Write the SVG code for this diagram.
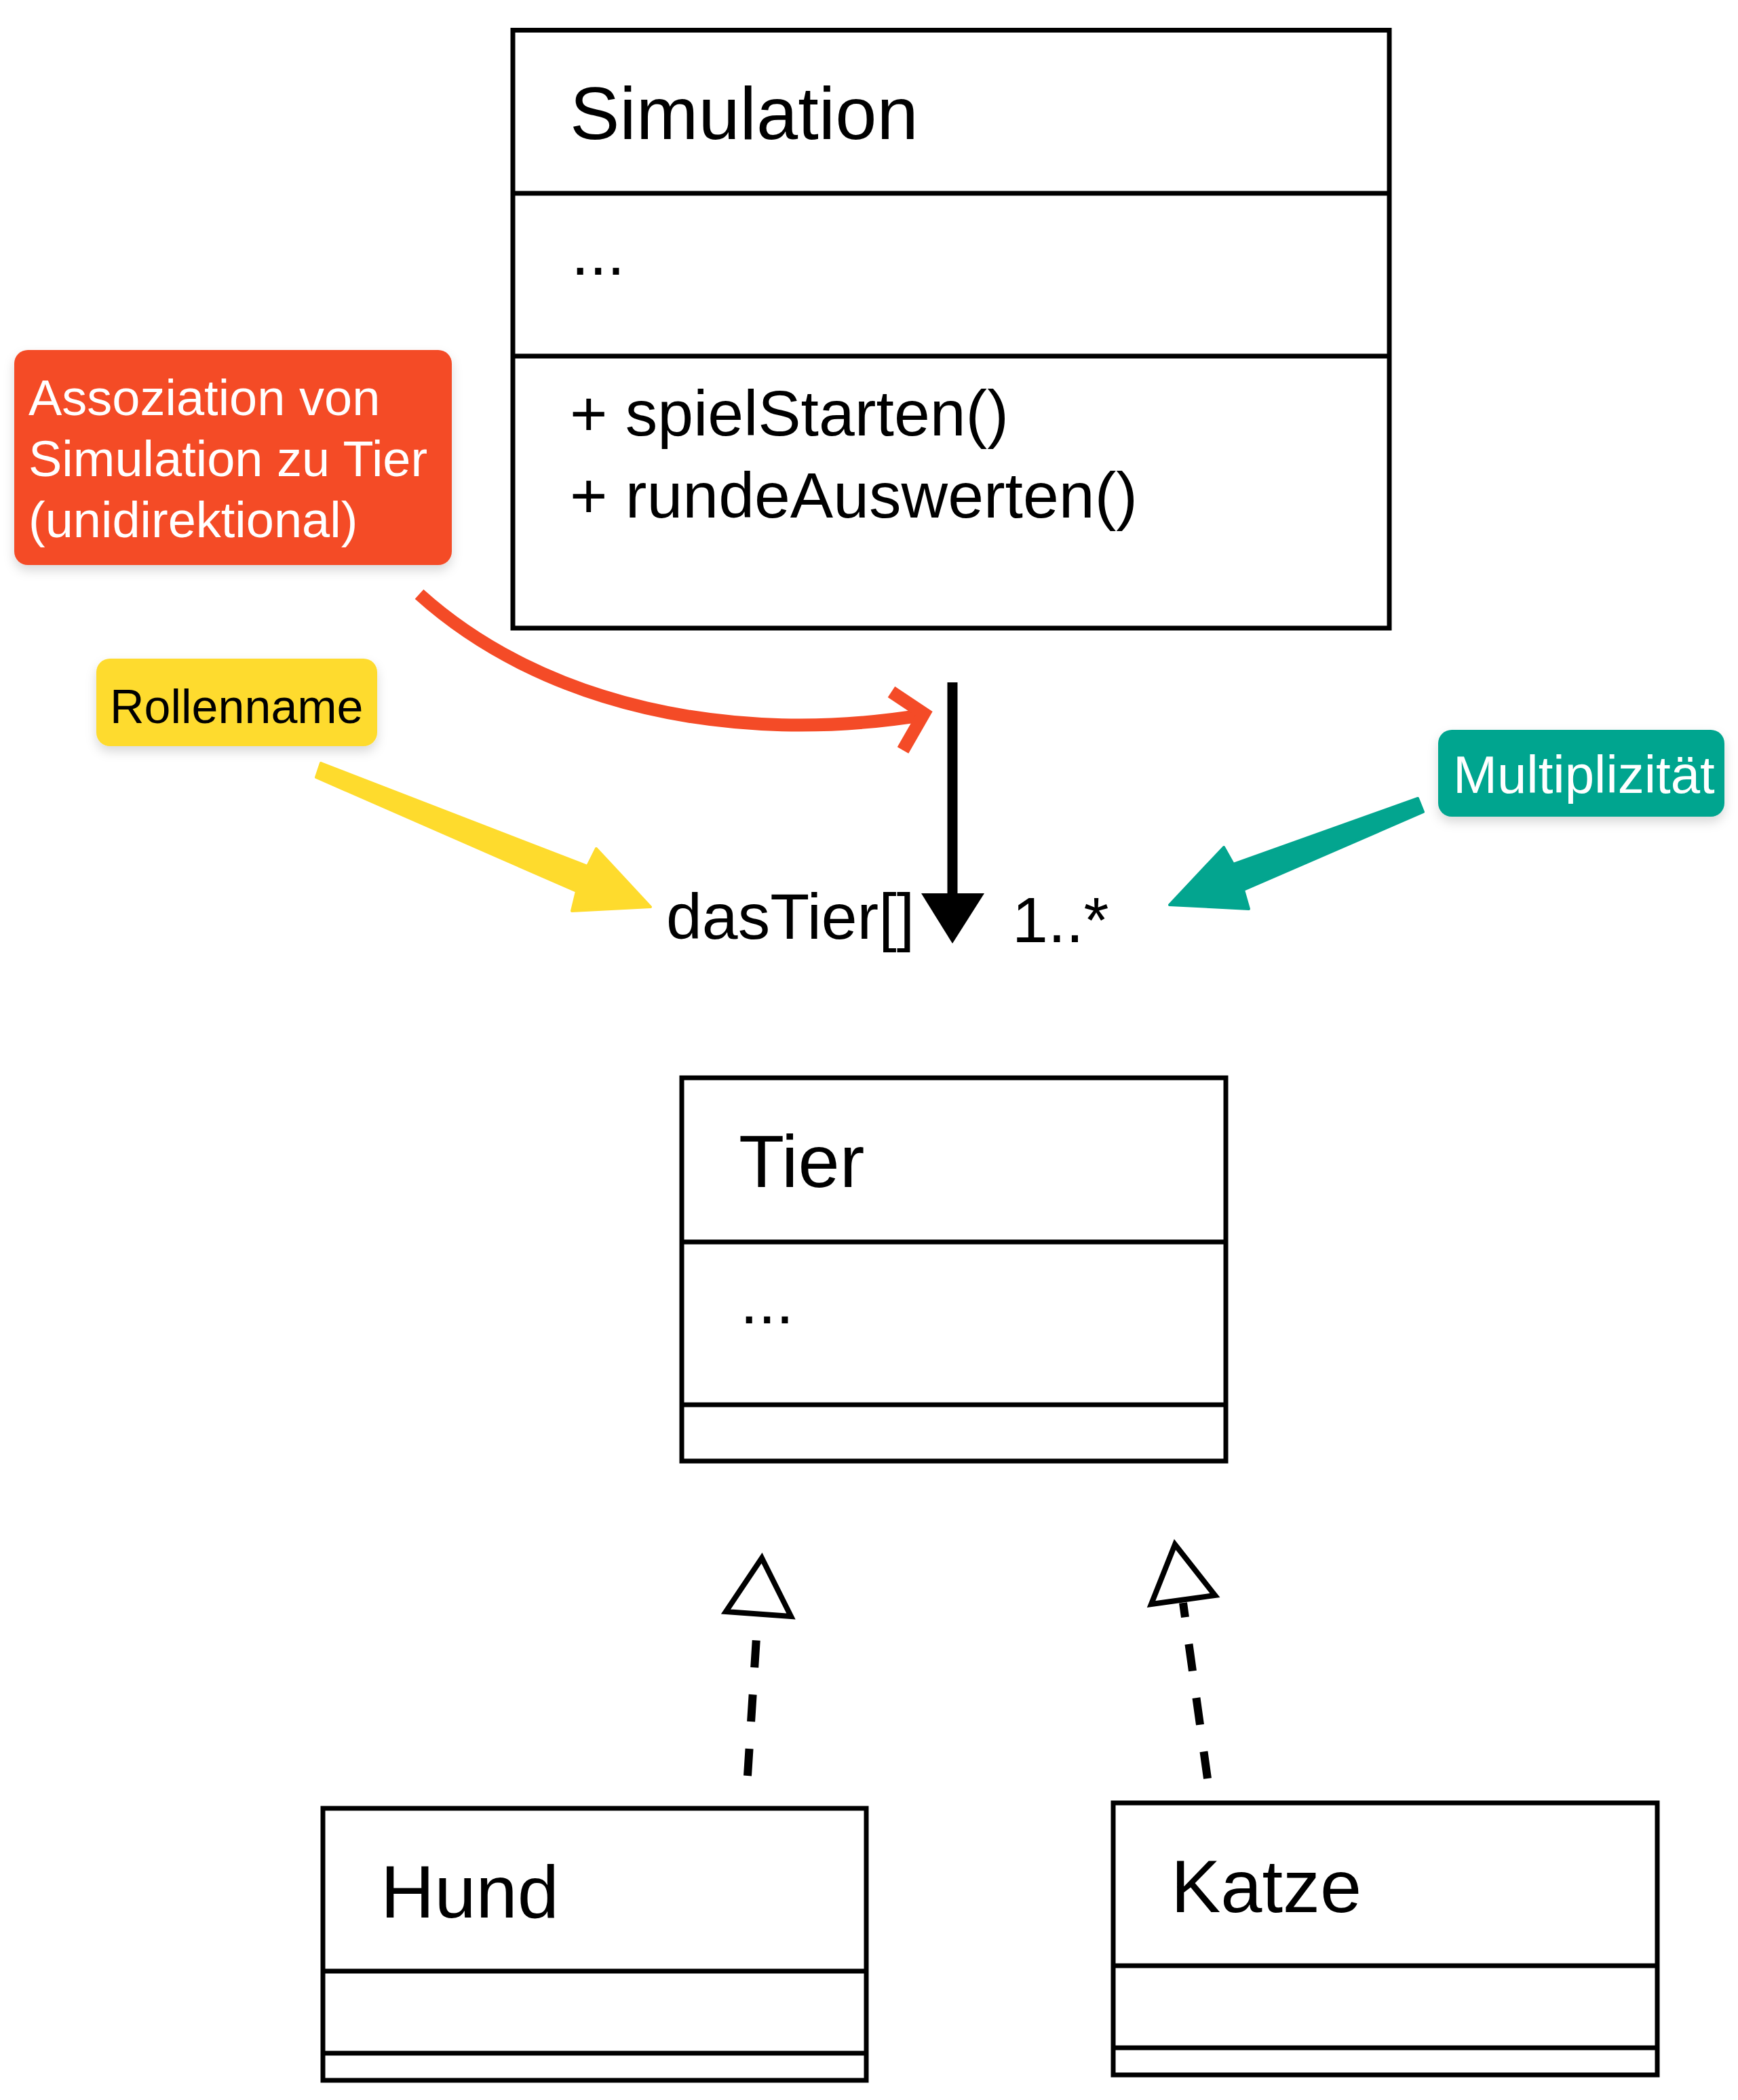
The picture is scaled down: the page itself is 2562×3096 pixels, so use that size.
<svg xmlns="http://www.w3.org/2000/svg" width="2562" height="3096" viewBox="0 0 2562 3096">
<defs>
<filter id="sh" x="-10%" y="-20%" width="120%" height="150%">
<feDropShadow dx="0" dy="8" stdDeviation="8" flood-color="#000" flood-opacity="0.15"/>
</filter>
<style>
.box{fill:#fff;stroke:#000;stroke-width:7}
.div{stroke:#000;stroke-width:7}
.t{font-family:"Liberation Sans",Arial,sans-serif;fill:#000}
.title{font-size:110px}
.mem{font-size:95px}
.note{font-family:"Liberation Sans",Arial,sans-serif}
.dash{stroke:#000;stroke-width:12;stroke-dasharray:40 40;fill:none}
.tri{fill:#fff;stroke:#000;stroke-width:8;stroke-linejoin:miter}
</style>
</defs>
<rect width="2562" height="3096" fill="#fff"/>

<g id="simulation">
<rect class="box" x="756" y="44.5" width="1292" height="881.5"/>
<line class="div" x1="756" y1="285" x2="2048" y2="285"/>
<line class="div" x1="756" y1="525" x2="2048" y2="525"/>
<text class="t title" x="840" y="205">Simulation</text>
<text class="t mem" x="842" y="405">...</text>
<text class="t mem" x="840" y="642">+ spielStarten()</text>
<text class="t mem" x="840" y="763">+ rundeAuswerten()</text>
</g>

<g id="tier">
<rect class="box" x="1005" y="1589" width="802" height="565"/>
<line class="div" x1="1005" y1="1831" x2="1807" y2="1831"/>
<line class="div" x1="1005" y1="2071" x2="1807" y2="2071"/>
<text class="t title" x="1089" y="1750">Tier</text>
<text class="t mem" x="1091" y="1951">...</text>
</g>

<g id="hund">
<rect class="box" x="476" y="2666" width="801" height="401"/>
<line class="div" x1="476" y1="2906" x2="1277" y2="2906"/>
<line class="div" x1="476" y1="3027" x2="1277" y2="3027"/>
<text class="t title" x="561" y="2827">Hund</text>
</g>

<g id="katze">
<rect class="box" x="1641" y="2658" width="802" height="401"/>
<line class="div" x1="1641" y1="2898" x2="2443" y2="2898"/>
<line class="div" x1="1641" y1="3019" x2="2443" y2="3019"/>
<text class="t title" x="1726" y="2819">Katze</text>
</g>

<g id="connectors">
<line x1="1404" y1="1006" x2="1404" y2="1320" stroke="#000" stroke-width="15"/>
<polygon points="1358,1317 1451,1317 1404,1391" fill="#000"/>
<path class="dash" d="M1102 2618 L1117 2383"/>
<polygon class="tri" points="1123,2297 1070,2376 1166,2383"/>
<path class="dash" d="M1780 2622 L1744 2363"/>
<polygon class="tri" points="1732,2277 1697,2365 1791,2352"/>
</g>

<g id="labels">
<text class="t mem" x="982" y="1384">dasTier[]</text>
<text class="t mem" x="1492" y="1389">1..*</text>
</g>

<g id="note-assoziation">
<rect x="21" y="516" width="645" height="317" rx="20" fill="#F44B27" filter="url(#sh)"/>
<text class="note" font-size="74" fill="#fff"><tspan x="42" y="612">Assoziation von</tspan><tspan x="42" y="702">Simulation zu Tier</tspan><tspan x="42" y="792">(unidirektional)</tspan></text>
<path d="M618 876 C800 1040 1080 1100 1362 1054" fill="none" stroke="#F44B27" stroke-width="19"/>
<polyline points="1314,1020 1362,1052 1331,1106" fill="none" stroke="#F44B27" stroke-width="19" stroke-linejoin="miter"/>
</g>

<g id="note-rollenname">
<rect x="142" y="971" width="414" height="129" rx="20" fill="#FEDB2D" filter="url(#sh)"/>
<text class="note" font-size="70" fill="#000" x="162" y="1066">Rollenname</text>
<polygon points="473,1125 866,1277 879,1251 959,1337 843,1343 850,1314 466,1146" fill="#FEDB2D" stroke="#FEDB2D" stroke-width="4" stroke-linejoin="round"/>
</g>

<g id="note-multiplizitaet">
<rect x="2120" y="1076" width="422" height="128" rx="20" fill="#03A58F" filter="url(#sh)"/>
<text class="note" font-size="78" fill="#fff" x="2142" y="1169">Multiplizität</text>
<polygon points="2090,1177 1818,1274 1804,1249 1724,1334 1841,1340 1833,1312 2098,1197" fill="#03A58F" stroke="#03A58F" stroke-width="4" stroke-linejoin="round"/>
</g>
</svg>
